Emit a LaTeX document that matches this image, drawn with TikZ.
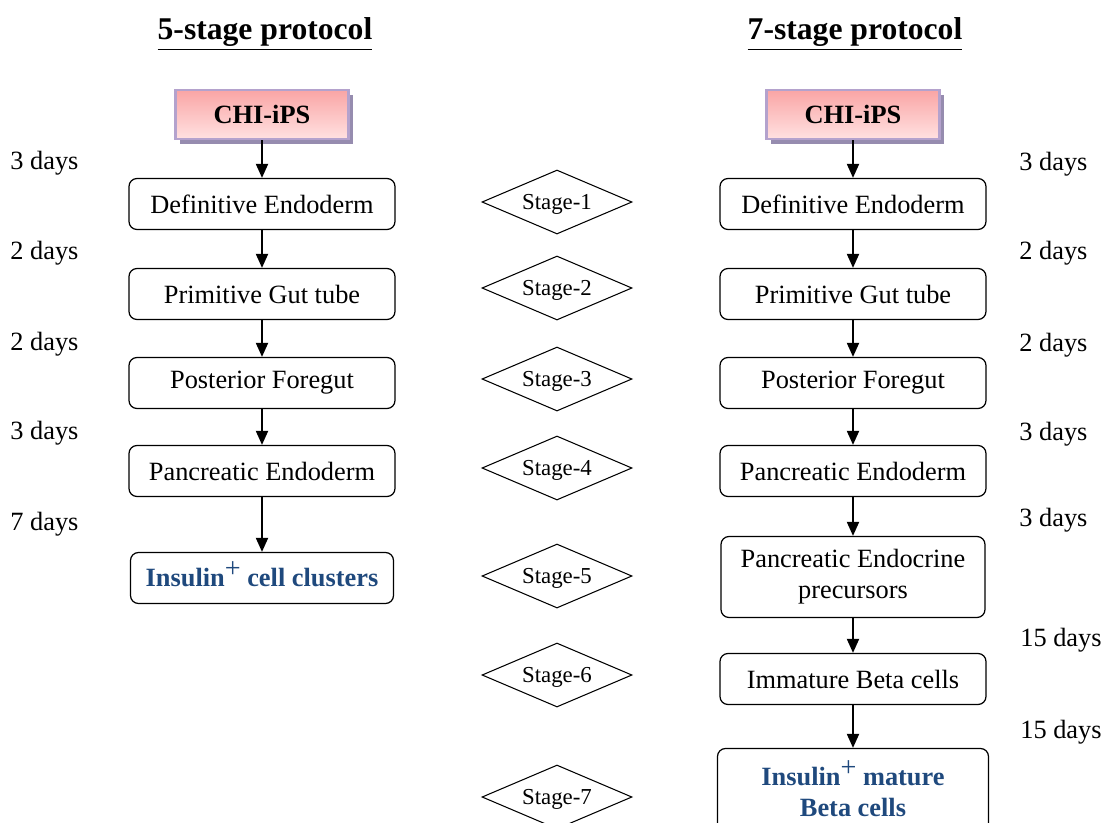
\documentclass[tikz,border=0pt]{standalone}
\usepackage{fontspec}
\setmainfont{Liberation Serif}
\usetikzlibrary{shapes,shadows,arrows.meta}
\definecolor{insblue}{RGB}{31,73,125}
\definecolor{lavline}{RGB}{180,162,205}
\definecolor{lavshadow}{RGB}{150,140,175}
\newcommand{\Ins}{Insulin\smash{\raisebox{0.75ex}{\fontsize{16}{18}\selectfont\mdseries+}}}

\begin{document}
\begin{tikzpicture}
      \tikzstyle{every node}=[font=\fontsize{15}{17.6}\selectfont]
      \tikzstyle{box}=[draw,rounded corners=0.16cm,line width=0.7pt,minimum width=5.32cm,minimum height=1.02cm,align=center]
      \tikzstyle{src}=[draw=lavline,line width=1.2pt,top color={rgb,255:red,250;green,165;blue,165},bottom color={rgb,255:red,255;green,225;blue,225},minimum width=3.46cm,minimum height=0.98cm,font=\fontsize{15}{17.6}\selectfont\bfseries,drop shadow={shadow xshift=0.09cm,shadow yshift=-0.09cm,fill=lavshadow,opacity=1}]
      \tikzstyle{ins}=[box,text=insblue,font=\fontsize{15}{17.6}\selectfont\bfseries]
      \tikzstyle{stage}=[draw,diamond,aspect=2.34,minimum width=3cm,minimum height=1.28cm,inner sep=0pt,line width=0.6pt,text depth=0pt,font=\fontsize{13}{15}\selectfont]
      \tikzstyle{days}=[anchor=west,inner sep=0pt]
      \tikzstyle{arr}=[-{Triangle[length=0.28cm,width=0.24cm]},line width=1.1pt]
      \useasboundingbox (0,0) rectangle (22.04,-16.44);
      %
      \node [font=\fontsize{18}{20}\selectfont\bfseries] (h5) at (5.30,-0.68) {\underline{5-stage protocol}};
      \node [font=\fontsize{18}{20}\selectfont\bfseries] (h7) at (17.10,-0.68) {\underline{7-stage protocol}};
      % 5-stage protocol
      \node [src] (a0) at (5.24,-2.29) {CHI-iPS};
      \node [box] (a1) [below of=a0, node distance=1.79cm] {Definitive Endoderm};
      \node [box] (a2) [below of=a1, node distance=1.80cm] {Primitive Gut tube};
      \node [box] (a3) [below of=a2, node distance=1.78cm] {Posterior Foregut};
      \node [box] (a4) [below of=a3, node distance=1.76cm] {Pancreatic Endoderm};
      \node [ins, minimum width=5.26cm] (a5) [below of=a4, node distance=2.14cm] {\Ins\ cell clusters};
      % 7-stage protocol
      \node [src] (b0) at (17.06,-2.29) {CHI-iPS};
      \node [box] (b1) [below of=b0, node distance=1.79cm] {Definitive Endoderm};
      \node [box] (b2) [below of=b1, node distance=1.80cm] {Primitive Gut tube};
      \node [box] (b3) [below of=b2, node distance=1.78cm] {Posterior Foregut};
      \node [box] (b4) [below of=b3, node distance=1.76cm] {Pancreatic Endoderm};
      \node [box, minimum width=5.28cm, minimum height=1.62cm] (b5) [below of=b4, node distance=2.12cm] {Pancreatic Endocrine\\precursors};
      \node [box] (b6) [below of=b5, node distance=2.04cm] {Immature Beta cells};
      \node [ins, minimum width=5.42cm, minimum height=1.74cm] (b7) [below of=b6, node distance=2.26cm] {\Ins\ mature\\Beta cells};
      % stages
      \node [stage] (s1) at (11.14,-4.04)  {Stage-1};
      \node [stage] (s2) at (11.14,-5.76)  {Stage-2};
      \node [stage] (s3) at (11.14,-7.58)  {Stage-3};
      \node [stage] (s4) at (11.14,-9.36)  {Stage-4};
      \node [stage] (s5) at (11.14,-11.52) {Stage-5};
      \node [stage] (s6) at (11.14,-13.50) {Stage-6};
      \node [stage] (s7) at (11.14,-15.94) {Stage-7};
      % days
      \node [days] (dl1) at (0.20,-3.26)  {3 days};
      \node [days] (dl2) at (0.20,-5.06)  {2 days};
      \node [days] (dl3) at (0.20,-6.88)  {2 days};
      \node [days] (dl4) at (0.20,-8.66)  {3 days};
      \node [days] (dl5) at (0.20,-10.48) {7 days};
      \node [days] (dr1) at (20.38,-3.28)  {3 days};
      \node [days] (dr2) at (20.38,-5.06)  {2 days};
      \node [days] (dr3) at (20.38,-6.90)  {2 days};
      \node [days] (dr4) at (20.38,-8.68)  {3 days};
      \node [days] (dr5) at (20.38,-10.40) {3 days};
      \node [days] (dr6) at (20.40,-12.80) {15 days};
      \node [days] (dr7) at (20.40,-14.64) {15 days};
      %
      \path[arr]
      (a0) edge (a1)
      (a1) edge (a2)
      (a2) edge (a3)
      (a3) edge (a4)
      (a4) edge (a5)
      (b0) edge (b1)
      (b1) edge (b2)
      (b2) edge (b3)
      (b3) edge (b4)
      (b4) edge (b5)
      (b5) edge (b6)
      (b6) edge (b7);
    \end{tikzpicture}
\end{document}
